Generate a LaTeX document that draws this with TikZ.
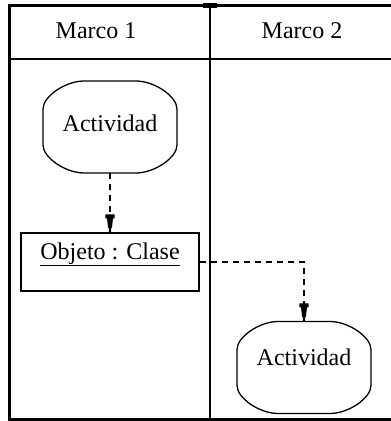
\documentclass[tikz,border=0pt]{standalone}
\usepackage{fontspec}
\setmainfont{Liberation Serif}
\pgfdeclarearrow{
  name = Tmark,
  parameters = {},
  setup code = {
    \pgfarrowssettipend{0pt}
    \pgfarrowssetlineend{-4pt}
    \pgfarrowssetvisualbackend{-18pt}
    \pgfarrowssetbackend{-18pt}
    \pgfarrowshullpoint{0pt}{1pt}
    \pgfarrowshullpoint{0pt}{-1pt}
    \pgfarrowshullpoint{-18pt}{4.6pt}
    \pgfarrowshullpoint{-18pt}{-4.6pt}
  },
  drawing code = {
    \pgfpathmoveto{\pgfqpoint{0pt}{1.1pt}}
    \pgfpathlineto{\pgfqpoint{-4pt}{1.1pt}}
    \pgfpathlineto{\pgfqpoint{-5pt}{2pt}}
    \pgfpathlineto{\pgfqpoint{-14pt}{3pt}}
    \pgfpathlineto{\pgfqpoint{-14pt}{4.6pt}}
    \pgfpathlineto{\pgfqpoint{-18pt}{4.6pt}}
    \pgfpathlineto{\pgfqpoint{-18pt}{-4.6pt}}
    \pgfpathlineto{\pgfqpoint{-14pt}{-4.6pt}}
    \pgfpathlineto{\pgfqpoint{-14pt}{-3pt}}
    \pgfpathlineto{\pgfqpoint{-5pt}{-2pt}}
    \pgfpathlineto{\pgfqpoint{-4pt}{-1.1pt}}
    \pgfpathlineto{\pgfqpoint{0pt}{-1.1pt}}
    \pgfpathclose
    \pgfusepathqfill
  }
}
\begin{document}
\begin{tikzpicture}[x=1pt,y=-1pt,
  lbl/.style={font=\fontsize{24}{27}\selectfont, inner sep=0pt, anchor=base},
  activity/.style={minimum width=134pt, minimum height=92pt, inner sep=0pt},
  actline/.style={draw, line width=1.3pt},
  actshape/.pic={
    \draw[actline] (-26,-46) -- (26,-46)
      .. controls (44.5,-46) and (67,-30.6) .. (67,-18) -- (67,18)
      .. controls (67,30.6) and (44.5,46) .. (26,46) -- (-26,46)
      .. controls (-44.5,46) and (-67,30.6) .. (-67,18) -- (-67,-18)
      .. controls (-67,-30.6) and (-44.5,-46) .. (-26,-46) -- cycle;
  },
  objbox/.style={draw, line width=1.5pt, minimum width=178pt, minimum height=58pt, inner sep=0pt},
  flow/.style={line width=1.8pt, dash pattern=on 6pt off 5pt, -Tmark},
  frame/.style={line width=2pt}]
\useasboundingbox (0,0) rectangle (391,421);
% frame
\draw[frame, line width=3pt] (9.5,4) -- (9.5,420.5);
\draw[frame, line width=2.4pt] (8,5.5) -- (391,5.5);
\draw[frame, line width=1.8pt] (9,59) -- (391,59);
\draw[frame] (210,5) -- (210,419);
\fill (203,3.3) rectangle (217,7.7);
\draw[frame, line width=2.6pt] (8,419.3) -- (391,419.3);
% headers
\node[lbl] (m1) at (96,38.5) {Marco 1};
\node[lbl] (m2) at (302,38.5) {Marco 2};
% nodes
\node[activity] (act1) at (110,127) {};
\pic at (act1.center) {actshape};
\node[lbl] (t1) at (110,131) {Actividad};
\node[objbox] (obj) at (110,262) {};
\node[lbl] (t2) at (110,259) {\underline{Objeto : Clase}};
\node[activity] (act2) at (304,367.5) {};
\pic at (act2.center) {actshape};
\node[lbl] (t3) at (304,365) {Actividad};
% connectors
\draw[flow] (act1.south) -- (obj.north);
\draw[flow] (obj.east) -| (act2.north);
\end{tikzpicture}
\end{document}
